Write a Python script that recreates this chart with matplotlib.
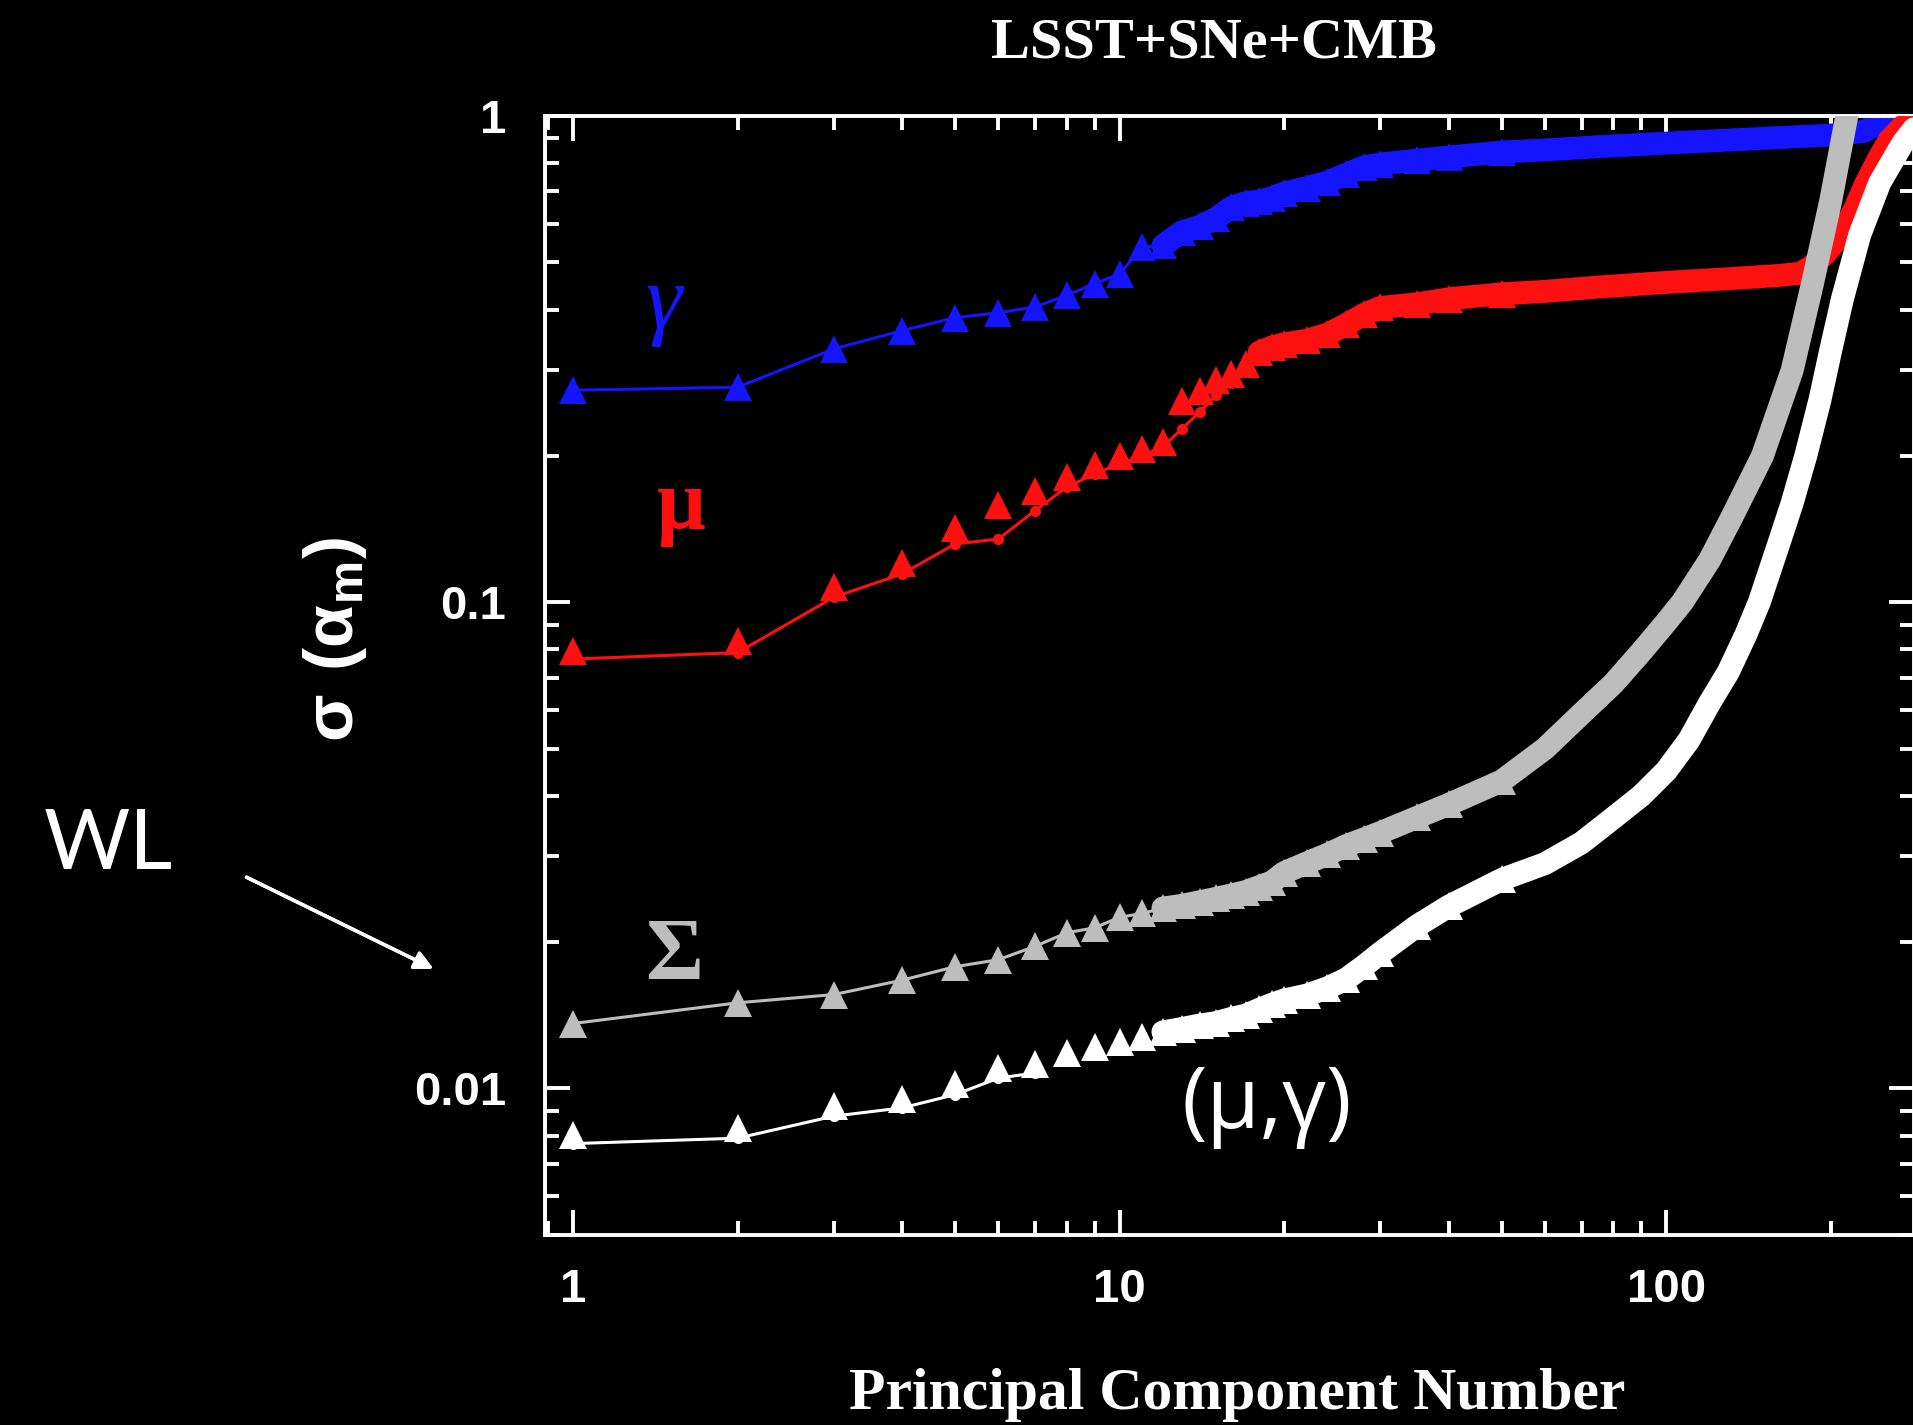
import numpy as np
import matplotlib.pyplot as plt
from matplotlib.ticker import FixedLocator, FixedFormatter, LogLocator, NullFormatter

plt.rcParams['font.family'] = ['Liberation Sans', 'DejaVu Sans']
plt.rcParams['font.weight'] = 'bold'
plt.rcParams['mathtext.fontset'] = 'custom'
plt.rcParams['mathtext.bf'] = 'Liberation Sans:bold'
plt.rcParams['mathtext.rm'] = 'Liberation Sans:bold'

# principal component number and sigma(alpha_m) for each parameter set
gamma_pc = [1, 2, 3, 4, 5, 6, 7, 8, 9, 10, 11, 12, 13, 14, 15, 16, 17, 18, 19, 20,
            22, 24, 26, 28, 30, 35, 40, 50, 60, 75, 100, 150, 200, 230, 245, 270, 290]
gamma_sig = [0.273, 0.277, 0.332, 0.362, 0.385, 0.394, 0.405, 0.428, 0.452, 0.474,
             0.538, 0.542, 0.578, 0.593, 0.616, 0.649, 0.664, 0.669, 0.680, 0.695,
             0.713, 0.732, 0.760, 0.787, 0.797, 0.812, 0.824, 0.844, 0.852, 0.865,
             0.880, 0.900, 0.914, 0.930, 0.967, 0.990, 1.000]

mu_pc = [1, 2, 3, 4, 5, 6, 7, 8, 9, 10, 11, 12, 13, 14, 15, 16, 17, 18, 19, 20,
         22, 24, 26, 28, 30, 35, 40, 50, 60, 75, 100, 130, 160, 176, 184, 195, 210,
         222, 232, 245, 256, 270, 285]
mu_sig = [0.0795, 0.0833, 0.1077, 0.1202, 0.1422, 0.1589, 0.1692, 0.1814, 0.192, 0.2004,
          0.207, 0.2135, 0.260, 0.2718, 0.286, 0.295, 0.3096, 0.327, 0.335, 0.340,
          0.346, 0.356, 0.373, 0.391, 0.404, 0.411, 0.421, 0.431, 0.436, 0.445,
          0.455, 0.463, 0.470, 0.475, 0.490, 0.520, 0.574, 0.650, 0.728, 0.820,
          0.893, 0.950, 0.990]
# second mu case, drawn with small dots and the connecting line
mu_dot_pc = [1, 2, 3, 4, 5, 6, 7, 8, 9, 10, 11, 12, 13, 14, 15, 16, 17, 18]
mu_dot_sig = [0.0764, 0.0788, 0.1024, 0.1144, 0.1318, 0.1349, 0.1544, 0.1724, 0.1837,
              0.1926, 0.2004, 0.209, 0.2274, 0.246, 0.2664, 0.2823, 0.3043, 0.327]

sigma_pc = [1, 2, 3, 4, 5, 6, 7, 8, 9, 10, 11, 12, 13, 14, 15, 16, 17, 18, 19, 20,
            22, 24, 26, 28, 30, 35, 40, 50, 60, 70, 80, 90, 100, 107, 120, 132, 150,
            170, 185, 200, 214, 222]
sigma_sig = [0.0136, 0.0150, 0.0156, 0.0167, 0.0178, 0.0184, 0.0196, 0.0209, 0.0214,
             0.0225, 0.0229, 0.0235, 0.0238, 0.0242, 0.0246, 0.0250, 0.0254, 0.0260,
             0.0266, 0.0278, 0.0291, 0.0303, 0.0316, 0.0326, 0.0336, 0.0361, 0.0384,
             0.0429, 0.050, 0.059, 0.068, 0.079, 0.091, 0.100, 0.122, 0.150, 0.200,
             0.300, 0.450, 0.670, 1.000, 1.250]

mugam_pc = [1, 2, 3, 4, 5, 6, 7, 8, 9, 10, 11, 12, 13, 14, 15, 16, 17, 18, 19, 20,
            22, 24, 26, 28, 30, 35, 40, 50, 60, 70, 80, 90, 100, 110, 120, 130, 140,
            148, 160, 170, 180, 191, 200, 210, 226, 246, 271, 290]
mugam_sig = [0.00801, 0.0083, 0.00919, 0.00953, 0.01023, 0.0110, 0.0112, 0.0118,
             0.01215, 0.01247, 0.01275, 0.01307, 0.01328, 0.0135, 0.01365, 0.01393,
             0.01415, 0.01454, 0.0149, 0.0152, 0.01556, 0.0161, 0.0168, 0.01786,
             0.0190, 0.0216, 0.0237, 0.0269, 0.029, 0.032, 0.036, 0.040, 0.045, 0.052,
             0.062, 0.072, 0.086, 0.100, 0.13, 0.16, 0.20, 0.26, 0.33, 0.42, 0.57,
             0.73, 0.88, 0.97]
mugam_dot_pc = [1, 2, 3, 4, 5, 6, 7]
mugam_dot_sig = [0.0077, 0.0079, 0.00877, 0.00912, 0.00971, 0.0105, 0.01076]

x_ticks = [1, 10, 100]
x_labels = ['1', '10', '100']
y_ticks = [0.01, 0.1, 1]
y_labels = ['0.01', '0.1', '1']

BLUE = '#1414ff'
RED = '#ff1010'
GREY = '#bdbdbd'
WHITE = '#ffffff'

fig = plt.figure(figsize=(19.13, 14.25), dpi=100, facecolor='black')
ax = fig.add_axes([0.285, 0.1335, 0.7155, 0.785])
ax.set_facecolor('black')
ax.set_xscale('log')
ax.set_yscale('log')


def draw(pc, sig, color, band_from, z, dot_pc=None, dot_sig=None):
    pc = np.asarray(pc, dtype=float)
    sig = np.asarray(sig, dtype=float)
    head = pc <= 50
    band = pc >= band_from
    if dot_pc is None:
        ax.plot(pc[head], sig[head], color=color, lw=2.2, zorder=z)
    else:
        ax.plot(dot_pc, dot_sig, color=color, lw=2.2, marker='o', ms=8, mew=0, zorder=z)
    ax.plot(pc[band], sig[band], color=color, lw=16.5, solid_capstyle='round',
            solid_joinstyle='round', zorder=z)
    ax.plot(pc[head], sig[head], ls='none', marker='^', ms=20, mew=0,
            color=color, zorder=z + 0.1)


draw(gamma_pc, gamma_sig, BLUE, 12, 2)
draw(mu_pc, mu_sig, RED, 18, 3, mu_dot_pc, mu_dot_sig)
draw(mugam_pc, mugam_sig, WHITE, 12, 4, mugam_dot_pc, mugam_dot_sig)
draw(sigma_pc, sigma_sig, GREY, 12, 5)

ax.set_xlim(0.889, 284)
ax.set_ylim(0.005, 1)

ax.xaxis.set_major_locator(FixedLocator(x_ticks))
ax.xaxis.set_major_formatter(FixedFormatter(x_labels))
ax.xaxis.set_minor_locator(LogLocator(base=10, subs=np.arange(2, 10)))
ax.xaxis.set_minor_formatter(NullFormatter())
ax.yaxis.set_major_locator(FixedLocator(y_ticks))
ax.yaxis.set_major_formatter(FixedFormatter(y_labels))
ax.yaxis.set_minor_locator(LogLocator(base=10, subs=np.arange(2, 10)))
ax.yaxis.set_minor_formatter(NullFormatter())

ax.tick_params(which='both', direction='in', top=True, right=True,
               color='white', labelcolor='white', width=2.8)
ax.tick_params(which='major', length=18, labelsize=34)
ax.tick_params(axis='x', which='major', pad=24)
ax.tick_params(axis='y', which='major', pad=28)
ax.tick_params(which='minor', length=10)
for side in ax.spines.values():
    side.set_color('white')
    side.set_linewidth(2.8)

# curve labels
ax.text(1.46, 0.408, 'γ', color=BLUE, fontsize=66, style='italic', weight='normal',
        family='Liberation Serif', ha='center', va='center')
ax.text(1.58, 0.157, 'μ', color=RED, fontsize=62, weight='bold',
        family='Liberation Serif', ha='center', va='center')
ax.text(1.53, 0.0186, 'Σ', color=GREY, fontsize=64, weight='bold',
        family='Liberation Serif', ha='center', va='center')
ax.text(18.6, 0.00923, '(μ,γ)', color='white', fontsize=62, weight='normal',
        family=['Open Sans', 'DejaVu Sans'], ha='center', va='center')

fig.text(1214 / 1913, 1 - 58 / 1425, 'LSST+SNe+CMB', color='white', fontsize=42,
         family='Liberation Serif', weight='bold', ha='center', va='baseline')
fig.text(1237 / 1913, 1 - 1409 / 1425, 'Principal Component Number', color='white',
         fontsize=43, family='Liberation Serif', weight='bold', ha='center', va='baseline')
fig.text(335 / 1913, 1 - 640 / 1425, r'$\mathbf{σ\ (α_m)}$', color='white', fontsize=50,
         rotation=90, ha='center', va='center')

# hand-written note pointing at the weak lensing curves
fig.text(108 / 1913, 1 - 846 / 1425, 'WL', color='white', fontsize=60, weight='normal',
         family=['Lato', 'DejaVu Sans'], ha='center', va='center')
fig.add_artist(plt.annotate('', xy=(436 / 1913, 1 - 970 / 1425), xycoords='figure fraction',
                            xytext=(244 / 1913, 1 - 876 / 1425), textcoords='figure fraction',
                            arrowprops=dict(arrowstyle='-|>', color='white', lw=2.5,
                                            mutation_scale=28)))

fig.savefig('out.png', dpi=100, facecolor='black')
